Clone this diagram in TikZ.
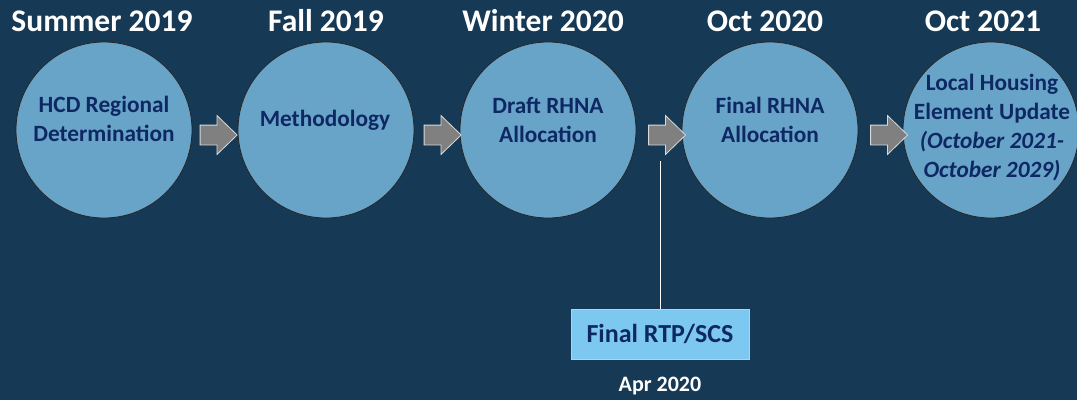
\documentclass[tikz,border=0pt]{standalone}
\usepackage{fontspec}
\setmainfont{Carlito}
\usetikzlibrary{shapes.arrows}
\definecolor{bg}{RGB}{22,58,85}
\definecolor{circ}{RGB}{104,163,200}
\definecolor{navy}{RGB}{14,40,100}
\definecolor{boxfill}{RGB}{125,200,240}
\definecolor{arr}{RGB}{128,128,128}
\begin{document}
\begin{tikzpicture}[x=1pt,y=-1pt,
  stage/.style={circle,draw=black!85,line width=0.8pt,fill=circ,minimum size=176pt,inner sep=0pt},
  stagetext/.style={text=navy,font=\fontsize{23.3}{29}\selectfont\bfseries,align=center,inner sep=0pt},
  datetitle/.style={text=white,font=\fontsize{31.5}{36}\selectfont\bfseries,inner sep=0pt},
  stepArrow/.style={single arrow,fill=arr,draw=black!15,line width=0.8pt,minimum height=37pt,
    inner xsep=0pt,inner ysep=9.5pt,single arrow head extend=9.5pt,single arrow tip angle=88,text width=0pt},
  rtpbox/.style={draw=black!20,line width=0.8pt,fill=boxfill,minimum width=178pt,minimum height=50pt,inner sep=0pt,
    text=navy,font=\fontsize{26}{30}\selectfont\bfseries}
]
\fill[bg] (0,0) rectangle (1077,400);
\useasboundingbox (0,0) rectangle (1077,400);

\node[datetitle] (d1) at (102,21) {Summer 2019};
\node[datetitle] (d2) at (326,21) {Fall 2019};
\node[datetitle] (d3) at (543,21) {Winter 2020};
\node[datetitle] (d4) at (765,21) {Oct 2020};
\node[datetitle] (d5) at (983,21) {Oct 2021};

\node[stage] (c1) at (104,130) {};
\node[stage] (c2) at (326,130) {};
\node[stage] (c3) at (548,130) {};
\node[stage] (c4) at (770,130) {};
\node[stage] (c5) at (991,130) {};

\node[stagetext] (t1) at (104,119) {HCD Regional\\Determination};
\node[stagetext] (t2) at (325,120) {Methodology};
\node[stagetext] (t3) at (548,120) {Draft RHNA\\Allocation};
\node[stagetext] (t4) at (770,120) {Final RHNA\\Allocation};
\node[stagetext] (t5) at (992,128) {Local Housing\\Element Update\\\itshape(October 2021-\\\itshape October 2029)};

\node[stepArrow] (a1) at (213.5,135) {};
\node[stepArrow] (a2) at (437.5,135) {};
\node[stepArrow] (a3) at (662,135) {};
\node[stepArrow] (a4) at (884,135) {};

\node[rtpbox] (b) at (660,334) {Final RTP/SCS};
\coordinate (lt) at (660,161);
\draw[white,line width=1pt] (lt) -- (b.north);
\node[text=white,font=\fontsize{22}{26}\selectfont\bfseries,inner sep=0pt] (apr) at (660,386) {Apr 2020};
\end{tikzpicture}
\end{document}
